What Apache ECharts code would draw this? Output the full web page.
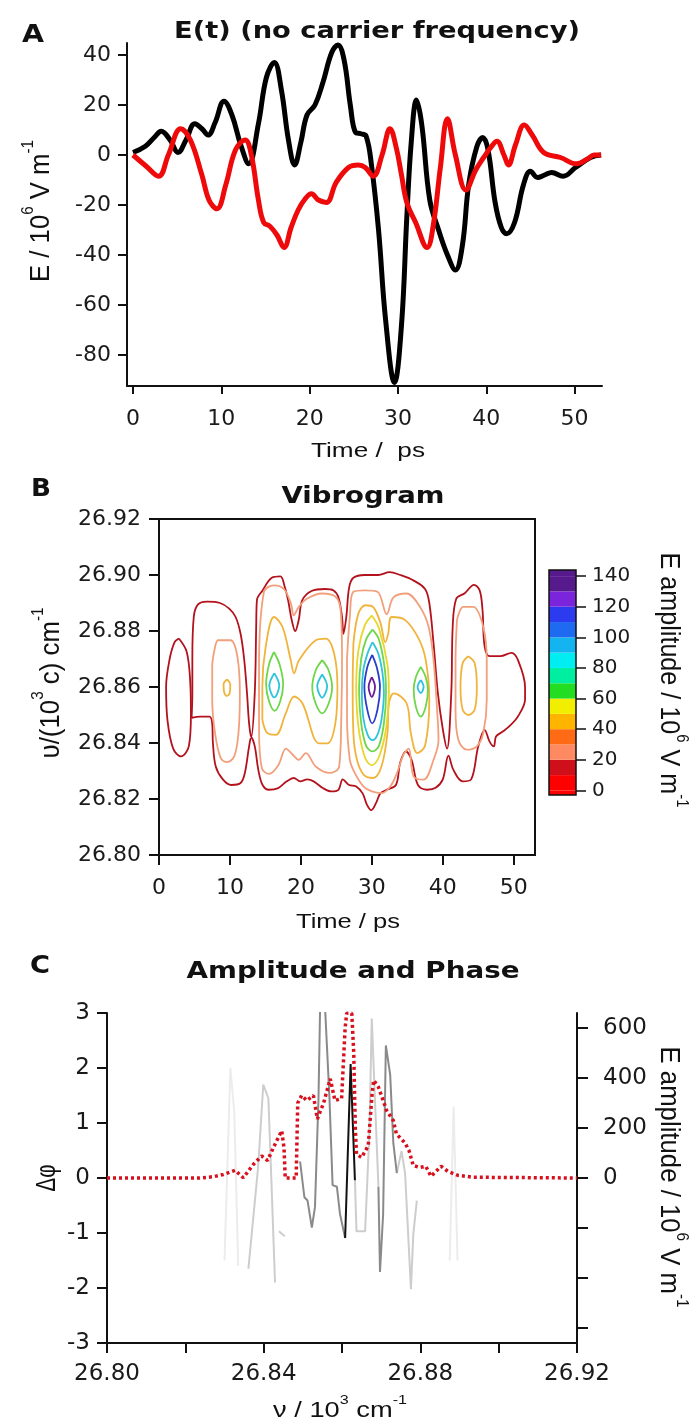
<!DOCTYPE html>
<html><head><meta charset="utf-8">
<script src="https://cdn.jsdelivr.net/npm/echarts@6/dist/echarts.min.js"></script>
<style>html,body{margin:0;padding:0;background:#fff}#c{width:697px;height:1425px}</style>
</head><body><div id="c"></div>
<script>
// ---------------- Panel A : E(t) ----------------
const fieldBlack = [[0,1],[1.4,3.5],[2.4,7],[3.2,9.5],[4.2,6],[5.1,1],[6,6],[7,12.5],[7.8,10.5],[8.5,8],[9.3,13],[10.3,21.5],[11.2,16],[12.2,4],[13.1,-3.5],[14.2,12.5],[15.1,31],[16,37],[16.8,26],[17.6,6],[18.3,-4],[19,5],[19.7,16],[20.6,20],[21.5,29],[22.5,41],[23.2,44],[23.9,38],[24.6,20],[25.2,9],[25.8,8.5],[26.4,7.5],[27,-4],[27.8,-30],[28.6,-66],[29.6,-91],[30.4,-68],[31,-25],[31.5,5],[32.1,22],[32.7,12],[33.6,-18],[34.6,-30],[35.6,-40],[36.5,-46],[37.3,-36],[38,-12],[38.9,3],[39.6,7],[40.2,2],[41,-19],[41.7,-29],[42.3,-31.5],[43.2,-27],[44.2,-12],[45,-6.5],[45.8,-9],[46.6,-8],[47.4,-7],[48.7,-8.5],[50.1,-5],[51.8,-1],[53,0]];
const fieldRed = [[0,0],[1.5,-4.5],[2.9,-8.5],[4,0],[5.4,10.5],[6.5,6],[7.8,-8],[8.6,-18],[9.5,-21.5],[10.5,-12],[11.6,2],[12.7,6],[13.4,0],[14.2,-18],[14.8,-27],[15.5,-28.5],[16.3,-32],[17.1,-37],[17.9,-29],[18.7,-22],[19.5,-17.5],[20.2,-15.5],[21,-18],[21.9,-19],[23,-11],[24.4,-5],[25.5,-4],[26.3,-5],[27.2,-8.5],[28.2,0],[29.1,10.5],[29.8,3],[30.4,-8],[31,-19],[32,-27],[33.3,-37],[34,-28],[34.8,-5],[35.6,14.5],[36.5,0],[37.7,-14],[38.8,-6],[39.7,-1],[40.5,3],[41.2,5.5],[42,0],[42.5,-4],[43.3,4],[44.3,12],[45.2,8],[46.5,1],[48.4,-1],[50.2,-3.5],[51.5,-1.5],[52.2,0],[53,0]];
const ticksAx = [0,10,20,30,40,50];
const ticksAy = [-80,-60,-40,-20,0,20,40];

// ---------------- Panel B : Vibrogram contours [time, nu] ----------------
const c10_main = [[4.6,26.849],[4.7,26.858],[4.7,26.870],[4.9,26.885],[5.5,26.8895],[6.8,26.8905],[8.6,26.890],[9.9,26.888],[10.8,26.885],[11.5,26.879],[12.0,26.870],[12.4,26.858],[12.7,26.847],[13.0,26.842],[13.5,26.858],[13.7,26.8815],[13.8,26.891],[14.6,26.8945],[15.9,26.899],[17.1,26.8995],[17.7,26.896],[18.2,26.891],[18.7,26.884],[19.2,26.880],[19.7,26.884],[20.2,26.891],[21.5,26.8943],[23.4,26.895],[24.6,26.8945],[25.3,26.892],[25.8,26.885],[26.0,26.879],[26.4,26.885],[26.8,26.8955],[27.4,26.899],[29.0,26.900],[30.9,26.900],[32.5,26.901],[34.0,26.900],[35.9,26.898],[37.5,26.895],[38.1,26.890],[38.7,26.8755],[39.3,26.858],[40.0,26.845],[40.6,26.838],[41.2,26.858],[41.4,26.8815],[41.9,26.8915],[43.1,26.8935],[44.4,26.8965],[45.2,26.8945],[45.6,26.8875],[45.9,26.8745],[46.6,26.871],[48.1,26.871],[49.7,26.8722],[50.6,26.8696],[51.6,26.860],[51.6,26.8555],[50.6,26.8495],[49.4,26.846],[48.4,26.844],[47.5,26.8423],[47.2,26.8388],[46.6,26.8405],[45.9,26.8447],[45.0,26.8388],[44.0,26.827],[42.8,26.8263],[41.5,26.8304],[40.8,26.8355],[40.0,26.827],[39.0,26.824],[37.8,26.8233],[36.5,26.825],[35.6,26.834],[34.8,26.837],[34.0,26.833],[33.4,26.825],[32.1,26.8233],[31.2,26.822],[30.6,26.8186],[29.9,26.816],[29.3,26.818],[28.7,26.822],[27.8,26.8245],[26.8,26.825],[25.9,26.827],[25.3,26.8233],[24.3,26.8227],[23.1,26.8239],[21.8,26.8263],[20.9,26.827],[19.9,26.8263],[19.0,26.8275],[18.0,26.8263],[16.8,26.8239],[15.5,26.8233],[14.6,26.825],[14.0,26.8304],[13.5,26.8388],[13.0,26.842],[12.7,26.8388],[12.1,26.8293],[11.5,26.8257],[10.2,26.825],[9.0,26.827],[8.0,26.8316],[7.6,26.840],[7.5,26.847],[7.1,26.8494],[5.8,26.8494],[4.6,26.849]];
const c10_left = [[2.8,26.8773],[3.9,26.8726],[4.4,26.862],[4.5,26.8504],[4.2,26.8388],[3.1,26.8352],[2.0,26.838],[1.2,26.848],[1.0,26.860],[1.5,26.870],[2.2,26.876],[2.8,26.8773]];
const c25_left = [[8.2,26.8767],[10.1,26.8767],[11.05,26.8708],[11.4,26.8577],[11.2,26.8435],[10.6,26.8352],[9.6,26.8332],[8.7,26.8346],[7.9,26.8435],[7.5,26.8554],[7.5,26.8672],[7.9,26.8743],[8.2,26.8767]];
const c25_midleft = [[14.1,26.870],[14.8,26.894],[16.2,26.8963],[17.6,26.895],[18.6,26.8898],[19.0,26.8856],[19.7,26.8886],[20.9,26.8916],[23.0,26.8934],[24.9,26.8922],[25.6,26.8874],[25.8,26.870],[25.7,26.850],[25.4,26.8316],[24.0,26.8293],[22.1,26.8316],[20.7,26.8364],[19.7,26.834],[18.8,26.836],[17.9,26.838],[16.8,26.832],[15.5,26.829],[14.5,26.831],[14.1,26.845],[14.1,26.870]];
const c25_center = [[26.5,26.870],[26.9,26.885],[27.4,26.894],[29.0,26.8945],[30.8,26.894],[32.1,26.886],[33.05,26.892],[34.9,26.8934],[36.8,26.8886],[38.0,26.8815],[38.7,26.8696],[39.2,26.8518],[39.4,26.8411],[38.7,26.834],[37.3,26.8269],[35.9,26.828],[35.2,26.838],[34.5,26.836],[33.5,26.829],[32.6,26.8245],[31.4,26.8221],[30.0,26.8227],[28.8,26.8245],[27.6,26.8293],[26.9,26.834],[26.5,26.850],[26.5,26.870]];
const c25_right = [[42.0,26.8839],[42.9,26.8886],[44.3,26.8886],[45.7,26.8815],[46.2,26.8696],[46.2,26.8554],[45.7,26.8435],[44.8,26.8388],[43.4,26.8376],[42.2,26.8411],[41.8,26.8518],[41.8,26.8696],[42.0,26.8839]];
const c40_left = [[9.6,26.8627],[10.05,26.8608],[9.95,26.8577],[9.55,26.8568],[9.15,26.8585],[9.1,26.861],[9.6,26.8627]];
const c40_midleft = [[14.57,26.8482],[14.57,26.8601],[15.04,26.8744],[16.22,26.8850],[17.40,26.8815],[18.57,26.8696],[19.04,26.8649],[19.75,26.8696],[22.10,26.8767],[23.51,26.8773],[24.68,26.8720],[25.15,26.8601],[24.92,26.8482],[23.74,26.8399],[22.57,26.8399],[20.22,26.8542],[19.04,26.8566],[17.87,26.8506],[16.46,26.8429],[15.28,26.8435],[14.57,26.8482]];
const c40_center = [[27.4,26.8755],[28.1,26.8862],[29.1,26.8892],[30.2,26.8885],[31.2,26.8830],[31.9,26.8760],[32.3,26.879],[32.8,26.885],[34.7,26.8839],[36.6,26.8773],[37.6,26.8696],[38.1,26.8554],[37.5,26.8390],[36.4,26.8364],[35.5,26.8435],[34.9,26.8542],[33.1,26.8577],[32.4,26.8540],[32.2,26.8435],[31.4,26.8320],[30.2,26.8275],[28.9,26.8285],[27.9,26.8340],[27.4,26.8435],[27.3,26.860],[27.4,26.8755]];
const c40_right = [[43.6,26.871],[44.5,26.8685],[44.8,26.860],[44.5,26.852],[43.6,26.850],[42.8,26.852],[42.5,26.860],[42.8,26.8685],[43.6,26.871]];
const c50_center = [[30.0,26.8855],[31.0,26.881],[32.2,26.868],[32.4,26.858],[32.0,26.845],[31.0,26.835],[30.0,26.832],[29.0,26.835],[28.1,26.846],[27.8,26.860],[28.1,26.873],[29.0,26.882],[30.0,26.8855]];
const c65_p1 = [[16.2,26.8725],[17.0,26.868],[17.5,26.861],[17.1,26.855],[16.3,26.8515],[15.5,26.855],[15.1,26.861],[15.5,26.868],[16.2,26.8725]];
const c65_p2 = [[23.0,26.8696],[23.9,26.866],[24.4,26.860],[23.9,26.854],[23.0,26.8506],[22.1,26.854],[21.6,26.860],[22.1,26.866],[23.0,26.8696]];
const c65_center = [[30.1,26.8805],[31.0,26.877],[31.8,26.867],[32.0,26.858],[31.7,26.847],[31.0,26.839],[30.1,26.837],[29.2,26.839],[28.5,26.847],[28.2,26.859],[28.5,26.870],[29.2,26.877],[30.1,26.8805]];
const c65_p3 = [[36.9,26.8672],[37.6,26.8635],[37.9,26.859],[37.6,26.853],[36.9,26.8494],[36.2,26.853],[35.9,26.859],[36.2,26.8635],[36.9,26.8672]];
const c85_p1 = [[16.25,26.8649],[16.95,26.8605],[16.25,26.8563],[15.55,26.8605],[16.25,26.8649]];
const c85_p2 = [[23.0,26.8645],[23.7,26.8603],[23.0,26.8562],[22.3,26.8603],[23.0,26.8645]];
const c85_center = [[30.1,26.876],[30.9,26.872],[31.5,26.865],[31.7,26.858],[31.4,26.849],[30.8,26.843],[30.1,26.841],[29.4,26.843],[28.8,26.849],[28.6,26.858],[28.8,26.866],[29.4,26.872],[30.1,26.876]];
const c85_p3 = [[36.9,26.8625],[37.3,26.860],[36.9,26.8578],[36.45,26.860],[36.9,26.8625]];
const c110_center = [[30.05,26.8715],[30.7,26.867],[31.15,26.860],[30.8,26.852],[30.05,26.847],[29.35,26.852],[28.95,26.860],[29.35,26.867],[30.05,26.8715]];
const c130_center = [[30.0,26.8635],[30.45,26.860],[30.0,26.8565],[29.55,26.860],[30.0,26.8635]];
const contourLoops = [
  [10,c10_main],[10,c10_left],
  [25,c25_left],[25,c25_midleft],[25,c25_center],[25,c25_right],
  [40,c40_left],[40,c40_midleft],[40,c40_center],[40,c40_right],
  [50,c50_center],
  [65,c65_p1],[65,c65_p2],[65,c65_center],[65,c65_p3],
  [85,c85_p1],[85,c85_p2],[85,c85_center],[85,c85_p3],
  [110,c110_center],[130,c130_center]
];
const levelColors = {10:'#b3121c',25:'#f2a07c',40:'#f0b43c',50:'#e8d62a',65:'#6ed64a',85:'#2ec4dc',110:'#2a3ccc',130:'#6a1a9a'};
// colour bar
const cbTicks = [0,20,40,60,80,100,120,140];
const cbStops = [0,10,20,30,40,50,60,70,80,90,100,110,120,130,140];
const cbColors = ['#ff0000','#cf0f1a','#ff8a62','#ff6a14','#ffb400','#f2ee00','#22dd22','#00eea0','#00eef2','#14b4f0','#1e6af0','#2c3af0','#7a24dc','#561a8c'];
const cbRange = [-3,144];

// ---------------- Panel C : amplitude & phase [nu, value] ----------------
const amplitude = [[26.80,0],[26.8237,0],[26.8271,5],[26.8297,14],[26.8327,31],[26.8348,1],[26.8374,55],[26.8395,88],[26.8410,70],[26.8425,122],[26.8446,189],[26.8452,120],[26.8455,0],[26.8483,0],[26.8487,300],[26.8497,330],[26.8510,310],[26.8527,330],[26.8537,236],[26.8553,300],[26.8570,397],[26.8582,310],[26.8599,318],[26.8608,600],[26.8612,659],[26.8625,659],[26.8630,500],[26.8634,200],[26.8637,95],[26.8650,82],[26.8667,129],[26.8677,340],[26.8681,391],[26.8693,364],[26.8714,270],[26.8731,230],[26.8739,176],[26.8761,140],[26.8771,110],[26.8782,50],[26.8799,42],[26.8814,47],[26.8827,7],[26.8836,20],[26.8853,47],[26.8870,27],[26.8895,11],[26.8935,3],[26.92,0]];
const phaseFaint = [
  [[26.8300,-1.5],[26.8315,2.0],[26.8325,1.2],[26.8335,-1.6]],
  [[26.8875,-1.5],[26.8885,1.3],[26.8895,-1.5]]
];
const phaseLight = [
  [[26.8361,-1.65],[26.8386,0.21],[26.8399,1.70],[26.8412,1.45],[26.8420,-0.10],[26.8429,-1.9]],
  [[26.8439,-0.97],[26.8454,-1.06]],
  [[26.8633,-0.04],[26.8637,-0.97],[26.8659,-0.97],[26.8670,0.83],[26.8676,2.9],[26.8684,1.45],[26.8693,-0.16]],
  [[26.8740,0.09],[26.8752,0.49],[26.8761,0.09],[26.8776,-2.02],[26.8782,-1.03],[26.8791,-0.41]]
];
const phaseMid = [
  [[26.8493,0.30],[26.8504,-0.35],[26.8512,-0.41],[26.8523,-0.90],[26.8531,-0.53],[26.8540,1.45],[26.8544,3.06],[26.8557,3.06],[26.8568,1.45],[26.8576,-0.13],[26.8587,-0.16],[26.8595,-0.66],[26.8608,-1.09]],
  [[26.8693,-0.16],[26.8697,-1.71],[26.8705,-0.66],[26.8712,2.41],[26.8723,1.88],[26.8731,0.64],[26.8740,0.09]]
];
const phaseDark = [
  [[26.8608,-1.09],[26.8622,2.07],[26.8625,2.05],[26.8633,-0.04]]
];
const ticksCright = [-600,-400,-200,0,200,400,600];
const labelsCright = [0,200,400,600];

// ---------------- text helpers ----------------
const mctx = document.createElement('canvas').getContext('2d');
const REG = '"Liberation Sans", Arial, sans-serif';
const BOLD = '"DejaVu Sans", sans-serif';
function measure(parts){
  let w = 0;
  parts.forEach(p => { mctx.font = (p.bold?'bold ':'') + p.size + 'px ' + p.family; w += mctx.measureText(p.t).width; });
  return w;
}
function txt(cx, cy, parts, target, rot, across){
  const w = measure(parts);
  const rich = {}; let s = '';
  parts.forEach((p,i) => {
    const k = 'p'+i; s += '{'+k+'|'+p.t+'}';
    rich[k] = {fontSize:p.size, fontWeight:p.bold?'bold':'normal', fontFamily:p.family, fill:'#111', color:'#111',
      verticalAlign: p.sup ? 'top' : 'bottom', padding: p.sup ? [0,0,0,0] : [6,0,0,0]};
  });
  return {type:'text', x:cx, y:cy, rotation: rot||0, scaleX: target/w, scaleY: across||1, z:100, silent:true,
    style:{text:s, rich:rich, fill:'#111', align:'center', verticalAlign:'middle', textAlign:'center', textVerticalAlign:'middle'}};
}
function R(t,size){return {t:t,size:size||21,family:REG};}
function S(t){return {t:t,size:13,family:REG,sup:true};}
function B(t,size){return {t:t,size:size||22,family:BOLD,bold:true};}

const graphics = [
  txt(33,33,[B('A',24)],22),
  txt(377,29,[B('E(t) (no carrier frequency)',23)],406),
  txt(41,487,[B('B',24)],20),
  txt(363,494,[B('Vibrogram',23)],163),
  txt(40,964,[B('C',24)],20),
  txt(353,969,[B('Amplitude and Phase',23)],333),
  txt(368,448,[R('Time /  ps')],114),
  txt(348,919,[R('Time / ps')],104),
  txt(340,1408,[R('ν / 10',22),S('3'),R(' cm',22),S('-1')],134),
  txt(38,211,[R('E / 10',22),S('6'),R(' V m',22),S('-1')],142,Math.PI/2,1.25),
  txt(48,683,[R('υ/(10',22),S('3'),R(' c) cm',22),S('-1')],151,Math.PI/2,1.25),
  txt(672,680,[R('E amplitude / 10',22),S('6'),R(' V m',22),S('-1')],255,-Math.PI/2,1.25),
  txt(672,1177,[R('E amplitude / 10',22),S('6'),R(' V m',22),S('-1')],261,-Math.PI/2,1.25),
  txt(44,1178,[R('Δφ',22)],27,Math.PI/2,1.25)
];

// ---------------- axes ----------------
const AX = {color:'#111', width:2};
const LBL = {color:'#1a1a1a', fontFamily:'"DejaVu Sans", sans-serif', fontSize:22};
function valAxis(o){ return Object.assign({type:'value', splitLine:{show:false}, axisLine:{show:true, onZero:false, lineStyle:AX}, axisTick:{show:true, lineStyle:AX}}, o); }

const chart = echarts.init(document.getElementById('c'));
const series = [];
// Panel A
series.push({type:'line', xAxisIndex:0, yAxisIndex:0, data:fieldBlack, smooth:0.4, showSymbol:false, clip:false, lineStyle:{color:'#000', width:5}, z:3});
series.push({type:'line', xAxisIndex:0, yAxisIndex:0, data:fieldRed, smooth:0.4, showSymbol:false, clip:false, lineStyle:{color:'#ee0a0a', width:5}, z:4});
// Panel B contours
contourLoops.forEach(([lev, path]) => {
  series.push({type:'line', xAxisIndex:1, yAxisIndex:1, data:path, smooth:0.35, showSymbol:false, lineStyle:{color:levelColors[lev], width:1.8}, z:3});
});
// colour bar
series.push({type:'bar', xAxisIndex:2, yAxisIndex:2, stack:'cb', barWidth:'100%', data:[cbRange[0]-cbStops[0]], itemStyle:{color:cbColors[0]}});
for (let i=0;i<cbStops.length-1;i++){
  series.push({type:'bar', xAxisIndex:2, yAxisIndex:2, stack:'cb', barWidth:'100%', data:[cbStops[i+1]-cbStops[i]], itemStyle:{color:cbColors[i]}});
}
series.push({type:'bar', xAxisIndex:2, yAxisIndex:2, stack:'cb', barWidth:'100%', data:[cbRange[1]-cbStops[cbStops.length-1]], itemStyle:{color:cbColors[cbColors.length-1]}});
// Panel C phase
[[phaseFaint,'#ececec'],[phaseLight,'#cdcdcd'],[phaseMid,'#8a8a8a'],[phaseDark,'#111111']].forEach(([segs,col]) => {
  segs.forEach(seg => series.push({type:'line', xAxisIndex:3, yAxisIndex:3, data:seg, showSymbol:false, lineStyle:{color:col, width:2}, z:2}));
});
series.push({type:'line', xAxisIndex:3, yAxisIndex:4, data:amplitude, showSymbol:false, lineStyle:{color:'#d8101e', width:3.5, type:[3,3]}, z:5});

chart.setOption({
  animation:false,
  backgroundColor:'#fff',
  grid:[
    {left:127, top:43, width:475, height:343, outerBoundsMode:'none', containLabel:false},
    {left:159, top:519, width:376, height:336, show:true, borderColor:'#111', borderWidth:2, backgroundColor:'transparent', outerBoundsMode:'none', containLabel:false},
    {left:549, top:570, width:27, height:225, show:true, borderColor:'#111', borderWidth:1.5, backgroundColor:'transparent', z:10, outerBoundsMode:'none', containLabel:false},
    {left:107, top:1013, width:470, height:330, outerBoundsMode:'none', containLabel:false}
  ],
  xAxis:[
    valAxis({gridIndex:0, min:-0.68, max:53.1, axisTick:{show:true, length:8, lineStyle:AX, customValues:ticksAx}, axisLabel:Object.assign({margin:22, customValues:ticksAx}, LBL)}),
    valAxis({gridIndex:1, min:0, max:53, interval:10, axisTick:{show:true, length:10, lineStyle:AX}, axisLabel:Object.assign({margin:22, showMaxLabel:false}, LBL)}),
    {type:'category', gridIndex:2, data:['E'], show:false},
    valAxis({gridIndex:3, min:26.80, max:26.92, interval:0.02, axisTick:{show:true, length:10, lineStyle:AX},
      axisLabel:Object.assign({margin:20, showMinLabel:true, showMaxLabel:true, hideOverlap:false, formatter:v => (Math.round(v*100) % 4 === 0 ? v.toFixed(2) : '')}, LBL, {fontSize:23})})
  ],
  yAxis:[
    valAxis({gridIndex:0, min:-92.4, max:44.8, axisTick:{show:true, length:9, lineStyle:AX, customValues:ticksAy}, axisLabel:Object.assign({margin:16, customValues:ticksAy}, LBL)}),
    valAxis({gridIndex:1, min:26.80, max:26.92, interval:0.02, axisTick:{show:true, length:10, lineStyle:AX}, axisLabel:Object.assign({margin:18, formatter:v => v.toFixed(2)}, LBL)}),
    valAxis({gridIndex:2, position:'right', min:cbRange[0], max:cbRange[1], axisLine:{show:false}, axisTick:{show:true, length:10, lineStyle:{color:'#111', width:1.5}, customValues:cbTicks}, axisLabel:Object.assign({margin:16, customValues:cbTicks}, LBL, {fontSize:20})}),
    valAxis({gridIndex:3, min:-3, max:3, interval:1, axisTick:{show:true, length:10, lineStyle:AX}, axisLabel:Object.assign({margin:17}, LBL, {fontSize:23})}),
    valAxis({gridIndex:3, position:'right', min:-660, max:660, axisTick:{show:true, length:11, lineStyle:AX, customValues:ticksCright}, axisLabel:Object.assign({margin:26, customValues:labelsCright}, LBL, {fontSize:23})})
  ],
  graphic: graphics,
  series: series
});
</script>
</body></html>
